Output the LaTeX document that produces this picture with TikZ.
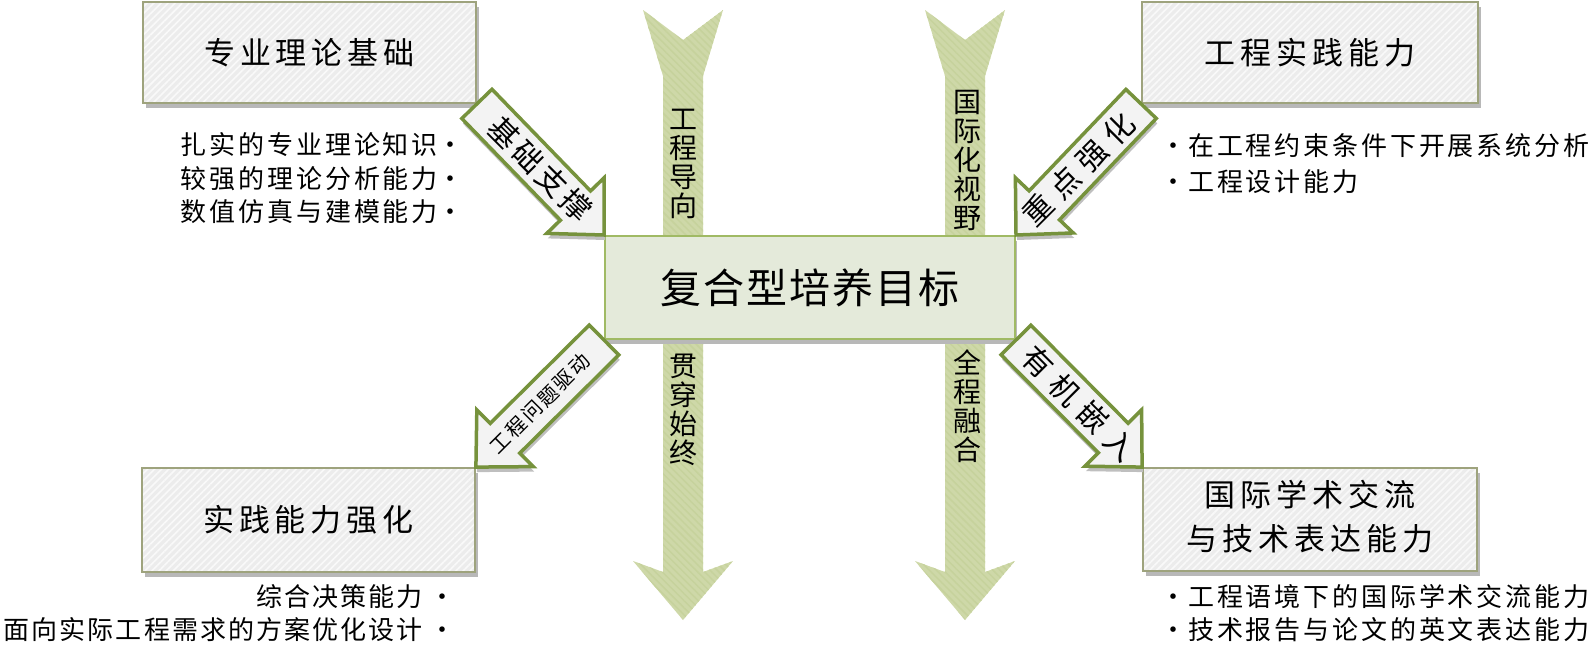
\documentclass[tikz,border=0pt]{standalone}
\usepackage{fontspec}
\setmainfont{Noto Sans CJK SC}
\usetikzlibrary{calc,patterns.meta,shadows}
\definecolor{boxfill}{RGB}{236,236,236}
\definecolor{boxdraw}{RGB}{158,163,125}
\definecolor{cfill}{RGB}{228,234,218}
\definecolor{cdraw}{RGB}{160,186,100}
\definecolor{adraw}{RGB}{118,146,60}
\definecolor{afill}{RGB}{243,243,243}
\definecolor{vfill}{RGB}{206,216,168}
\definecolor{vline}{RGB}{198,210,156}
\newcommand\diagarrow[6]{%
  \coordinate (#3-b) at ($(#2)!41pt!(#1)$);
  \draw[darrow] ($(#1)!21pt!90:(#2)$) -- ($(#3-b)!21pt!90:(#2)$) -- ($(#3-b)!40pt!90:(#2)$) -- (#2)
     -- ($(#3-b)!40pt!-90:(#2)$) -- ($(#3-b)!21pt!-90:(#2)$) -- ($(#1)!21pt!-90:(#2)$) -- cycle;
  \node[dtext, rotate=#5, font={#6}] (#3) at ($(#1)!0.5!(#2)$) {#4};
}
\newcommand\vertarrow[1]{%
  \path[varrow] (#1-40,10) -- (#1,40) -- (#1+40,10) -- (#1+20,76) -- (#1+20,572) -- (#1+50,561)
     -- (#1,620) -- (#1-50,561) -- (#1-20,572) -- (#1-20,76) -- cycle;
}
\newcommand\lsp[1]{{\addfontfeature{LetterSpace=11}#1}}
\newcommand\lspb[1]{{\addfontfeature{LetterSpace=8}#1}}
\newcommand\bdot{\makebox[8pt]{•}}
\tikzset{
  titlebox/.style={drop shadow={shadow xshift=3pt, shadow yshift=-5pt, fill=black!28, opacity=1},
    preaction={fill=boxfill}, pattern={Lines[angle=45,distance=5pt,line width=1.6pt]}, pattern color=white!70!boxfill,
    draw=boxdraw, line width=1.8pt, minimum width=333pt, minimum height=101pt, inner sep=0pt, align=center,
    font=\fontsize{31}{44}\selectfont\addfontfeature{LetterSpace=16}},
  centerbox/.style={drop shadow={shadow xshift=2pt, shadow yshift=-5pt, fill=black!28, opacity=1},
    fill=cfill, draw=cdraw, line width=2pt, minimum width=410pt, minimum height=103pt, inner sep=0pt,
    font=\fontsize{41}{44}\selectfont\addfontfeature{LetterSpace=5}},
  darrow/.style={drop shadow={shadow xshift=1pt, shadow yshift=-5pt, fill=black!25, opacity=1},
    fill=afill, draw=adraw, line width=3.5pt, line join=miter},
  dtext/.style={inner sep=0pt},
  varrow/.style={preaction={fill=vfill}, pattern={Lines[angle=-45,distance=5pt,line width=1.5pt]}, pattern color=vline},
  vtext/.style={inner sep=0pt, align=center, font=\fontsize{28}{29}\selectfont},
  bul/.style={inner sep=0pt, font=\fontsize{26}{30}\selectfont},
}
\begin{document}
\begin{tikzpicture}[x=1pt,y=-1pt]
\useasboundingbox (0,0) rectangle (1594,645);
\vertarrow{683}
\vertarrow{965}
\node[vtext] (v1) at (683,164) {工\\程\\导\\向};
\node[vtext] (v2) at (967,160) {国\\际\\化\\视\\野};
\node[vtext] (v3) at (683,410) {贯\\穿\\始\\终};
\node[vtext] (v4) at (967,406.5) {全\\程\\融\\合};

\node[titlebox] (jc) at (309.5,52.5) {专业理论基础};
\node[titlebox, minimum width=336pt] (gc) at (1310,52.5) {工程实践能力};
\node[titlebox, minimum height=104pt] (sj) at (308.5,520) {实践能力强化};
\node[titlebox, minimum width=334pt, minimum height=103pt] (gj) at (1310,519.5)
  {\raisebox{-4pt}{\begin{tabular}{@{}c@{}}国际学术交流\\与技术表达能力\end{tabular}}};
\node[centerbox] (mb) at (810,287.5) {复合型培养目标};

\node[bul, anchor=east] (b11) at (455,145) {\lsp{扎实的专业理论知识}\hspace{9pt}\bdot};
\node[bul, anchor=east] (b12) at (455,178.5) {\lsp{较强的理论分析能力}\hspace{9pt}\bdot};
\node[bul, anchor=east] (b13) at (455,212) {\lsp{数值仿真与建模能力}\hspace{9pt}\bdot};
\node[bul, anchor=west] (b21) at (1169,146) {\bdot\hspace{11pt}\lsp{在工程约束条件下开展系统分析}};
\node[bul, anchor=west] (b22) at (1169,182) {\bdot\hspace{11pt}\lsp{工程设计能力}};
\node[bul, anchor=east] (b31) at (447,597) {\lspb{综合决策能力}\hspace{16pt}\bdot};
\node[bul, anchor=east] (b32) at (447,630) {\lspb{面向实际工程需求的方案优化设计}\hspace{16pt}\bdot};
\node[bul, anchor=west] (b41) at (1169,597) {\bdot\hspace{11pt}\lsp{工程语境下的国际学术交流能力}};
\node[bul, anchor=west] (b42) at (1169,630) {\bdot\hspace{11pt}\lsp{技术报告与论文的英文表达能力}};

\diagarrow{jc.south east}{mb.north west}{a1}{基础支撑}{-45}{\fontsize{30}{30}\selectfont\addfontfeature{LetterSpace=13}}
\diagarrow{gc.south west}{mb.north east}{a2}{重点强化}{45}{\fontsize{30}{30}\selectfont\addfontfeature{LetterSpace=28}}
\diagarrow{mb.south west}{sj.north east}{a3}{工程问题驱动}{45}{\fontsize{20}{20}\selectfont\addfontfeature{LetterSpace=12}}
\diagarrow{mb.south east}{gj.north west}{a4}{有机嵌入}{-45}{\fontsize{30}{30}\selectfont\addfontfeature{LetterSpace=30}}
\end{tikzpicture}
\end{document}
